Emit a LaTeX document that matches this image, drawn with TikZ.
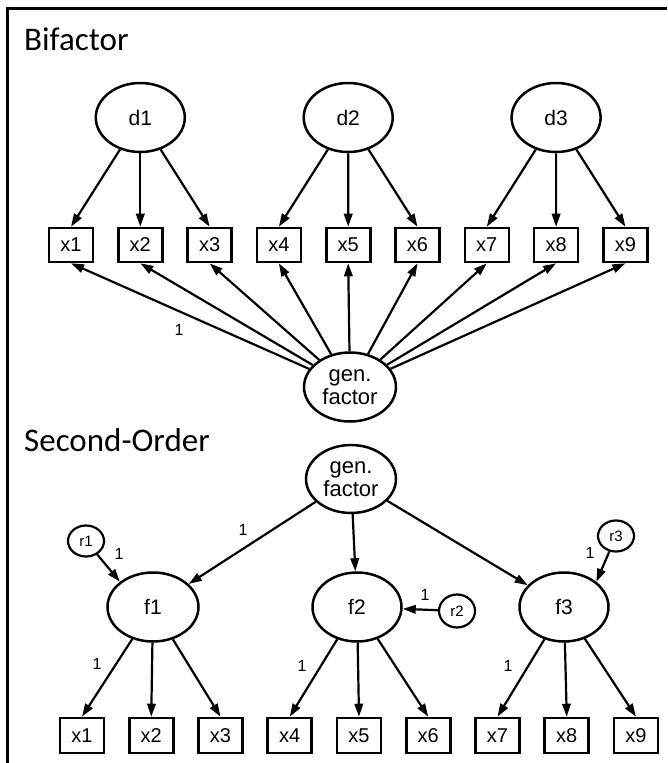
\documentclass[tikz,border=0pt]{standalone}
\usepackage{fontspec}
\setmainfont{Liberation Sans}
\newfontfamily\titlefont{Carlito}
\usetikzlibrary{arrows.meta,shapes.geometric}
\begin{document}
\begin{tikzpicture}[x=1pt,y=-1pt,
  lat/.style={ellipse,draw,line width=2.5pt,minimum width=89pt,minimum height=69pt,inner sep=0pt,font=\fontsize{21}{23}\selectfont,align=center},
  obs/.style={rectangle,draw,line width=2.6pt,minimum width=44pt,minimum height=34pt,inner sep=0pt,font=\fontsize{20}{22}\selectfont},
  res/.style={ellipse,draw,line width=2.2pt,minimum width=36pt,minimum height=31pt,inner sep=0pt,font=\fontsize{15}{17}\selectfont},
  arr/.style={line width=2.2pt,-{Triangle[length=13pt,width=8.5pt]}},
  lbl/.style={font=\fontsize{16}{18}\selectfont,inner sep=0pt},
  ttl/.style={font=\titlefont\fontsize{33}{38}\selectfont,anchor=base west,inner sep=0pt},
  frame/.style={line width=3pt}]
\useasboundingbox (0,0) rectangle (667,763);
% frame
\coordinate (fb) at (7,763);
\coordinate (fc) at (7,8);
\coordinate (fr) at (667,8);
\draw[frame] (fb) -- (fc) -- (fr);
% titles
\node[ttl] (t1) at (24,50) {Bifactor};
\node[ttl] (t2) at (24,451) {Second-Order};
% ---------- Bifactor ----------
\foreach \i in {1,...,9} {
  \node[obs] (a\i) at ({71+69.3*(\i-1)},245) {x\i};
}
\node[lat] (d1) at (140.3,117.5) {d1};
\node[lat] (d2) at (348.2,117.5) {d2};
\node[lat] (d3) at (556.1,117.5) {d3};
\node[lat,minimum width=92pt,font=\fontsize{22}{23}\selectfont] (g1) at (350,387) {gen.\\factor};
\foreach \i in {1,2,3} { \draw[arr] (d1) -- (a\i.north); }
\foreach \i in {4,5,6} { \draw[arr] (d2) -- (a\i.north); }
\foreach \i in {7,8,9} { \draw[arr] (d3) -- (a\i.north); }
\foreach \i in {1,...,9} { \draw[arr] (g1) -- (a\i.south); }
\node[lbl] (l0) at (179,330) {1};
% ---------- Second-Order ----------
\node[lat,minimum width=90pt,minimum height=68pt,font=\fontsize{22}{23}\selectfont] (g2) at (351,479) {gen.\\factor};
\node[lat,minimum width=91pt,minimum height=69pt] (f1) at (153,607) {f1};
\node[lat,minimum width=89pt,minimum height=69pt] (f2) at (357,607) {f2};
\node[lat,minimum width=89pt,minimum height=69pt] (f3) at (564,607) {f3};
\foreach \i in {1,...,9} {
  \node[obs,minimum height=35pt] (b\i) at ({82+69.25*(\i-1)},735.5) {x\i};
}
\node[res] (r1) at (86,541) {r1};
\node[res,minimum height=33pt] (r2) at (457,611) {r2};
\node[res] (r3) at (616,536) {r3};
\draw[arr] (g2) -- (f1);
\draw[arr] (g2) -- (f2);
\draw[arr] (g2) -- (f3);
\draw[arr] (r1) -- (f1.north west);
\draw[arr] (r2) -- (f2);
\draw[arr] (r3) -- (f3.north east);
\foreach \i in {1,2,3} { \draw[arr] (f1) -- (b\i.north); }
\foreach \i in {4,5,6} { \draw[arr] (f2) -- (b\i.north); }
\foreach \i in {7,8,9} { \draw[arr] (f3) -- (b\i.north); }
\node[lbl] (l1) at (243,530) {1};
\node[lbl] (l2) at (119,554) {1};
\node[lbl] (l3) at (425,595) {1};
\node[lbl] (l4) at (590,553) {1};
\node[lbl] (l5) at (97,664) {1};
\node[lbl] (l6) at (302,666) {1};
\node[lbl] (l7) at (508,666) {1};
\end{tikzpicture}
\end{document}
